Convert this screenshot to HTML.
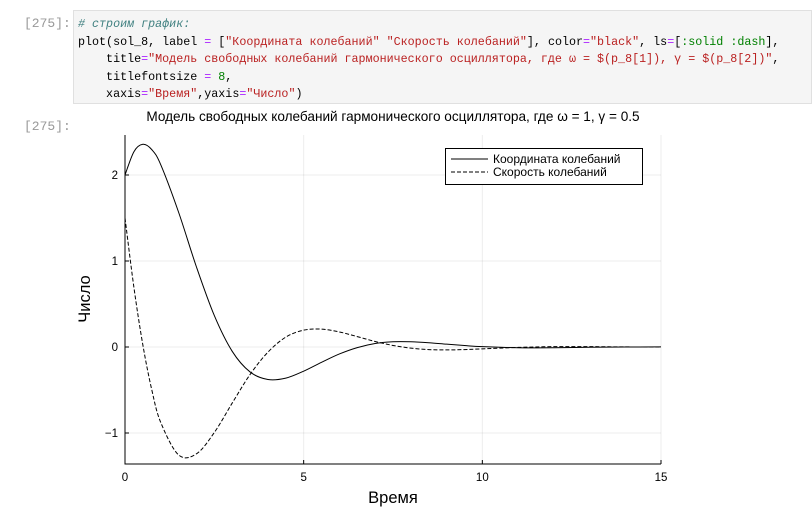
<!DOCTYPE html>
<html><head><meta charset="utf-8"><style>
body{margin:0;width:812px;height:523px;background:#fff;overflow:hidden;font-family:"Liberation Sans","DejaVu Sans",sans-serif}
.prompt{position:absolute;left:24px;color:#999;font:13px "Liberation Mono",monospace}
.cell{position:absolute;left:73px;top:10px;width:739px;height:94px;background:#f5f5f5;border:1px solid #e0e0e0;box-sizing:border-box}
pre{margin:0;position:absolute;left:4px;top:5px;font:11.7px/17.5px "Liberation Mono",monospace;color:#000}
.c{color:#408080;font-style:italic}.s{color:#ba2121}.o{color:#aa22ff}.n{color:#008000}
</style></head><body>
<div class="prompt" style="top:16px">[275]:</div>
<div class="cell"><pre><span class="c"># строим график:</span>
plot(sol_8, label <span class="o">=</span> [<span class="s">"Координата колебаний"</span> <span class="s">"Скорость колебаний"</span>], color<span class="o">=</span><span class="s">"black"</span>, ls<span class="o">=</span>[<span class="n">:solid :dash</span>],
    title<span class="o">=</span><span class="s">"Модель свободных колебаний гармонического осциллятора, где ω = $(p_8[1]), γ = $(p_8[2])"</span>,
    titlefontsize <span class="o">=</span> <span class="n">8</span>,
    xaxis<span class="o">=</span><span class="s">"Время"</span>,yaxis<span class="o">=</span><span class="s">"Число"</span>)</pre></div>
<div class="prompt" style="top:119px">[275]:</div>
<svg id="chart" width="812" height="523" style="position:absolute;left:0;top:0"></svg>
<script>
const times=[0,0.25,0.5,0.75,1,1.5,2,2.5,3,3.5,4,4.5,5,5.5,6,6.5,7,7.5,8,8.5,9,9.5,10,11,12,13,14,15];
const coord=[2,2.271,2.357,2.295,2.12,1.567,0.93,0.365,-0.05,-0.29,-0.378,-0.362,-0.281,-0.178,-0.081,-0.007,0.041,0.061,0.061,0.05,0.033,0.017,0.004,-0.009,-0.009,-0.003,0,0.001];
const velocity=[1.5,0.691,0.023,-0.499,-0.877,-1.255,-1.242,-0.994,-0.652,-0.32,-0.06,0.115,0.196,0.208,0.175,0.121,0.064,0.018,-0.013,-0.03,-0.034,-0.03,-0.022,-0.005,0.004,0.004,0.001,0];
const xTicks=[0,5,10,15];
const yTicks=[-1,0,1,2];
const seriesNames=["Координата колебаний","Скорость колебаний"];
const NS="http://www.w3.org/2000/svg";
const svg=document.getElementById('chart');
const X0=125,X1=661,Yt=135,Yb=464;
const xs=t=>X0+(t-0)/(15-0)*(X1-X0);
const ys=v=>347-v*86;
function mk(tag,attrs,parent){const e=document.createElementNS(NS,tag);for(const k in attrs)e.setAttribute(k,attrs[k]);(parent||svg).appendChild(e);return e;}
let t=mk('text',{x:393,y:121,'text-anchor':'middle','font-size':13.6,fill:'#000'});


t.textContent='Модель свободных колебаний гармонического осциллятора, где ω = 1, γ = 0.5';
xTicks.forEach(v=>{
 const g=mk('line',{x1:xs(v),x2:xs(v),y1:Yt,y2:Yb,stroke:'#000','stroke-opacity':0.07});
 
 
 mk('line',{x1:xs(v),x2:xs(v),y1:Yb,y2:Yb-4,stroke:'#000'});
 const l=mk('text',{x:xs(v),y:Yb+17,'text-anchor':'middle','font-size':11.5});
 
 
 l.textContent=v;
});
yTicks.forEach(v=>{
 const g=mk('line',{x1:X0,x2:X1,y1:ys(v),y2:ys(v),stroke:'#000','stroke-opacity':0.07});
 
 
 mk('line',{x1:X0,x2:X0+4,y1:ys(v),y2:ys(v),stroke:'#000'});
 const l=mk('text',{x:X0-7,y:ys(v)+4,'text-anchor':'end','font-size':11.5});
 
 
 l.textContent=v<0?'−'+Math.abs(v):v;
});
const ax=mk('path',{d:`M${X0} ${Yt}V${Yb}H${X1}`,fill:'none',stroke:'#000','stroke-width':1});


function smooth(vals){
 const p=times.map((tt,i)=>[xs(tt),ys(vals[i])]);
 let d=`M${p[0][0]} ${p[0][1]}`;
 for(let i=0;i<p.length-1;i++){
  const p0=p[i-1]||p[i],p1=p[i],p2=p[i+1],p3=p[i+2]||p[i+1];
  const c1=[p1[0]+(p2[0]-p0[0])/6,p1[1]+(p2[1]-p0[1])/6],c2=[p2[0]-(p3[0]-p1[0])/6,p2[1]-(p3[1]-p1[1])/6];
  d+=`C${c1[0]} ${c1[1]} ${c2[0]} ${c2[1]} ${p2[0]} ${p2[1]}`;
 }
 return d;
}
const l1=mk('path',{d:smooth(coord),fill:'none',stroke:'#000','stroke-width':1});


const l2=mk('path',{d:smooth(velocity),fill:'none',stroke:'#000','stroke-width':1,'stroke-dasharray':'4 2'});


const lg=mk('g',{});


mk('rect',{x:445.5,y:148.5,width:197,height:36,fill:'#fff',stroke:'#000'},lg);
seriesNames.forEach((n,i)=>{
 const y=159+i*13;
 mk('line',{x1:451,x2:488,y1:y,y2:y,stroke:'#000','stroke-dasharray':i?'4 2':'none'},lg);
 const e=mk('text',{x:493,y:y+4,'font-size':12},lg);
 
 
 e.textContent=n;
});
const xl=mk('text',{x:393,y:503,'text-anchor':'middle','font-size':16.5});


xl.textContent='Время';
const yl=mk('text',{x:90,y:299,'text-anchor':'middle','font-size':16.5,transform:'rotate(-90 90 299)'});


yl.textContent='Число';
</script>
</body></html>
